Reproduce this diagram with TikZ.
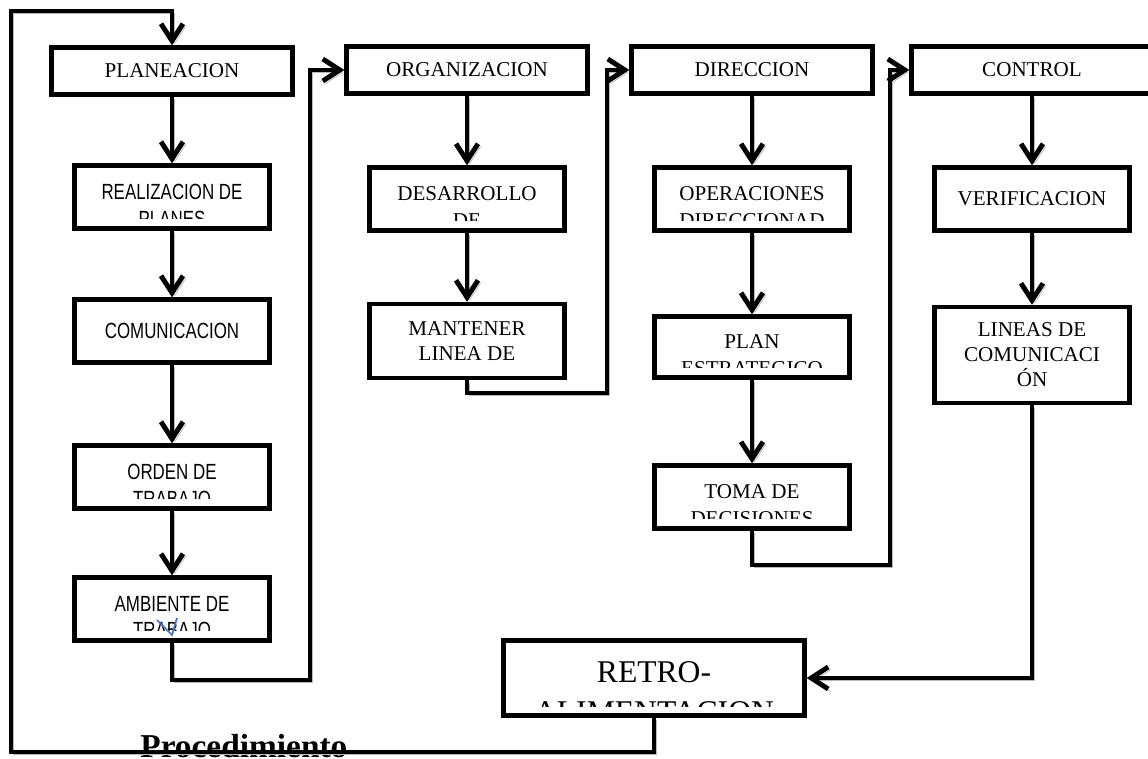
\documentclass[tikz,border=0pt]{standalone}
\usepackage{fontspec}
\setmainfont{Liberation Serif}
\newfontfamily\estrecha[FakeStretch=0.77]{Liberation Sans}
\usepackage{tikz}
\usetikzlibrary{arrows.meta,positioning}
\definecolor{marca}{RGB}{68,114,196}
\newcommand{\fsans}{\estrecha\fontsize{12.5}{15.1}\selectfont}
\newcommand{\fserif}{\fontsize{12}{15.1}\selectfont}

\begin{document}
\begin{tikzpicture}[x=0.02cm, y=-0.02cm,
            titulo/.style={rectangle, draw, line width=2.5pt, minimum width=4.82cm, minimum height=0.94cm, inner sep=0pt, font=\fontsize{12}{14.2}\selectfont},
            paso/.style={rectangle, draw, line width=2.5pt, minimum width=3.9cm, minimum height=1.26cm, inner sep=0pt, align=center, font=\fontsize{12}{14.2}\selectfont},
            sans/.style={font=\fsans},
            bajada/.store in=\bajada, corte/.store in=\corte, bajada=0.12cm, corte=0.20cm,
            cortado/.style 2 args={path picture={
                \clip ([yshift=\corte]path picture bounding box.south west) rectangle (path picture bounding box.north east);
                \node[anchor=north, inner sep=0pt, align=center, font=#1] at ([yshift=-\bajada]path picture bounding box.north) {#2};}},
            flecha/.style={line width=2.8pt, -{Straight Barb[length=3.4mm,width=4.4mm]},
                preaction={draw=gray!55, transform canvas={shift={(1.5pt,-1.5pt)}}}}]
            \useasboundingbox[fill=white] (0,0) rectangle (1148,759);

            % Nodes, one column per stage
            \node[titulo] (plan) at (172,71) {PLANEACION};
            \node[paso, cortado={\fsans}{REALIZACION DE\\PLANES}] (real) at (172,197) {};
            \node[paso, sans] (comu) at (172,331) {COMUNICACION};
            \node[paso, cortado={\fsans}{ORDEN DE\\TRABAJO}] (orden) at (172,477) {};
            \node[paso, cortado={\fsans}{AMBIENTE DE\\TRABAJO}] (ambi) at (172,609) {};

            \node[titulo] (orga) at (467,70) {ORGANIZACION};
            \node[paso, cortado={\fserif}{DESARROLLO\\DE}] (desa) at (467,199) {};
            \node[paso, minimum height=1.48cm] (mant) at (467,341) {MANTENER\\LINEA DE};

            \node[titulo] (dire) at (752,70) {DIRECCION};
            \node[paso, cortado={\fserif}{OPERACIONES\\DIRECCIONAD}] (oper) at (752,199) {};
            \node[paso, minimum height=1.22cm, corte=0.20cm, cortado={\fserif}{PLAN\\ESTRATEGICO}] (estr) at (752,347) {};
            \node[paso, corte=0.20cm, cortado={\fserif}{TOMA DE\\DECISIONES}] (toma) at (752,497) {};

            \node[titulo] (cont) at (1032,70) {CONTROL};
            \node[paso] (veri) at (1032,199) {VERIFICACION};
            \node[paso, minimum height=1.92cm] (lineas) at (1032,355) {LINEAS DE\\COMUNICACI\\ÓN};

            \node[paso, minimum width=6.02cm, minimum height=1.5cm, bajada=0.24cm, corte=0.17cm,
                  cortado={\fontsize{18}{22.7}\selectfont}{RETRO-\\ALIMENTACION}] (retro) at (654,678) {};

            \node[anchor=base west, inner sep=0pt, font=\bfseries\fontsize{19}{22}\selectfont] (proc) at (140,757) {Procedimiento};

            % Corner points of the connectors
            \coordinate (c1) at (310,680);
            \coordinate (c2) at (607,393);
            \coordinate (c3) at (890,565);
            \coordinate (c4) at (11,752);
            \coordinate (c5) at (11,11);

            % Edges
            \draw[flecha] (plan) -- (real);
            \draw[flecha] (real) -- (comu);
            \draw[flecha] (comu) -- (orden);
            \draw[flecha] (orden) -- (ambi);
            \draw[flecha] (ambi.south) |- (c1) |- (orga.west);
            \draw[flecha] (orga) -- (desa);
            \draw[flecha] (desa) -- (mant);
            \draw[flecha] (mant.south) |- (c2) |- (dire.west);
            \draw[flecha] (dire) -- (oper);
            \draw[flecha] (oper) -- (estr);
            \draw[flecha] (estr) -- (toma);
            \draw[flecha] (toma.south) |- (c3) |- (cont.west);
            \draw[flecha] (cont) -- (veri);
            \draw[flecha] (veri) -- (lineas);
            \draw[flecha] (lineas.south) |- (retro.east);
            \draw[flecha] (retro.south) |- (c4) -- (c5) -| (plan.north);

            \draw[marca, line width=1pt] (157,620) -- (172,635) -- (177,618);
        \end{tikzpicture}
\end{document}
